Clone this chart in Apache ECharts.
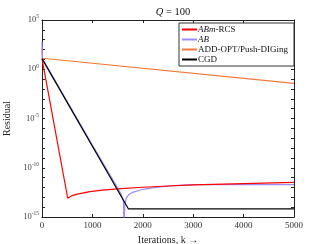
<!DOCTYPE html>
<html><head><meta charset="utf-8">
<script src="https://cdn.jsdelivr.net/npm/echarts@6/dist/echarts.min.js"></script>
<style>html,body{margin:0;padding:0;background:#fff}#c{width:325px;height:244px}</style>
</head><body><div id="c"></div>
<script>
const seriesNames = ['ABm-RCS', 'AB', 'ADD-OPT/Push-DIGing', 'CGD'];
const xTicks = [0, 1000, 2000, 3000, 4000, 5000];

const redK   = [0, 510, 530, 600, 700, 800, 950, 1200, 1500, 2000, 2500, 3000, 4000, 5000];
const redV   = [12, 8e-14, 1.0e-13, 1.5e-13, 2.1e-13, 2.7e-13, 3.8e-13, 5.3e-13, 7.2e-13, 1.05e-12, 1.4e-12, 1.8e-12, 2.5e-12, 3.2e-12];

const blueK  = [0, 5, 1000, 1500, 1560, 1600, 1615, 1627, 1640, 1660, 1680, 1720, 1800, 2000, 2300, 2600, 3000, 4000, 5000];
const blueV  = [575, 13, 2e-8, 9e-13, 2.5e-13, 8e-14, 4e-14, 1e-16, 1.5e-14, 5e-14, 1e-13, 1.8e-13, 3.2e-13, 6.5e-13, 1.1e-12, 1.5e-12, 1.9e-12, 2.0e-12, 1.9e-12];

const orangeK = [0, 10, 5000];
const orangeV = [125, 13, 3.6e-2];

const blackK = [0, 1713, 5000];
const blackV = [12, 6.8e-15, 6.8e-15];

const colors = ['#ff0000', '#9b8cff', '#f07838', '#000000'];

function pairs(k, v){ return k.map((x,i)=>[x, v[i]]); }

const chart = echarts.init(document.getElementById('c'));
const FONT = 'Liberation Serif';
const frame = {lineStyle:{color:'#222', width:1}};
chart.setOption({
  animation: false,
  textStyle: {fontFamily: FONT},
  title: {text: '{q|Q} = 100', left: 168, top: 2, textAlign: 'center',
    textStyle: {fontFamily: FONT, fontSize: 10.5, fontWeight: 'normal', color: '#111',
      rich: {q: {fontStyle: 'italic', fontFamily: FONT, fontSize: 10.5, color: '#111'}}}},
  grid: {left: 42, right: 31, top: 20, bottom: 27, containLabel: false, outerBoundsMode: 'none'},
  legend: {
    data: seriesNames, orient: 'vertical', right: 31, top: 23,
    backgroundColor: '#fff', borderColor: '#333', borderWidth: 1, borderRadius: 0,
    padding: [2, 6, 2, 3], itemGap: 1, itemWidth: 15, itemHeight: 2, icon: 'rect',
    textStyle: {fontFamily: FONT, fontSize: 9, color: '#111', padding: [0,0,0,-4],
      rich: {i: {fontStyle: 'italic', fontSize: 9, fontFamily: FONT}}},
    formatter: function(n){
      if (n === 'ABm-RCS') return '{i|ABm}-RCS';
      if (n === 'AB') return '{i|AB}';
      return n;
    }
  },
  xAxis: [{
    type: 'value', min: 0, max: 5000, interval: 1000, position: 'bottom',
    axisLine: {show: true, onZero: false, ...frame},
    axisTick: {show: true, inside: true, length: 3, lineStyle: {color:'#222'}},
    splitLine: {show: false},
    axisLabel: {fontFamily: FONT, fontSize: 9, color: '#333', margin: 4,
      formatter: v => xTicks.includes(v) ? String(v) : ''},
    name: 'Iterations, k \u2192', nameLocation: 'middle', nameGap: 15,
    nameTextStyle: {fontFamily: FONT, fontSize: 10, color: '#222'}
  }, {
    type: 'value', min: 0, max: 5000, interval: 1000, position: 'top',
    axisLine: {show: true, onZero: false, ...frame},
    axisTick: {show: true, inside: true, length: 3, lineStyle: {color:'#222'}},
    axisLabel: {show: false}, splitLine: {show: false}
  }],
  yAxis: [{
    type: 'log', logBase: 10, min: 1e-15, max: 1e5, interval: 1, position: 'left',
    axisLine: {show: true, onZero: false, ...frame},
    axisTick: {show: true, inside: true, length: 3, lineStyle: {color:'#222'}},
    splitLine: {show: false},
    axisLabel: {fontFamily: FONT, fontSize: 8, color: '#444', margin: 3,
      formatter: function(v){
        const e = Math.round(Math.log10(v));
        if (e % 5 !== 0) return '';
        return '{b|10}{s|' + e + '}';
      },
      rich: {b: {fontSize: 8.5, fontFamily: FONT, color:'#444'},
             s: {fontSize: 5.5, fontFamily: FONT, color:'#444', padding: [0,0,6,0]}}},
    name: 'Residual', nameLocation: 'middle', nameGap: 20, nameRotate: 90,
    nameTextStyle: {fontFamily: FONT, fontSize: 10, color: '#222'}
  }, {
    type: 'log', logBase: 10, min: 1e-15, max: 1e5, interval: 1, position: 'right',
    axisLine: {show: true, onZero: false, ...frame},
    axisTick: {show: true, inside: true, length: 3, lineStyle: {color:'#222'}},
    axisLabel: {show: false}, splitLine: {show: false}
  }],
  series: [
    {name: seriesNames[0], type: 'line', data: pairs(redK, redV), showSymbol: false, symbol: 'none', lineStyle: {width: 1.2, color: colors[0]}, itemStyle: {color: colors[0]}, z: 4},
    {name: seriesNames[1], type: 'line', data: pairs(blueK, blueV), showSymbol: false, symbol: 'none', lineStyle: {width: 1.2, color: colors[1]}, itemStyle: {color: colors[1]}, z: 3},
    {name: seriesNames[2], type: 'line', data: pairs(orangeK, orangeV), showSymbol: false, symbol: 'none', lineStyle: {width: 1.2, color: colors[2]}, itemStyle: {color: colors[2]}, z: 2},
    {name: seriesNames[3], type: 'line', data: pairs(blackK, blackV), showSymbol: false, symbol: 'none', lineStyle: {width: 1.2, color: colors[3]}, itemStyle: {color: colors[3]}, z: 5}
  ]
});
</script></body></html>
